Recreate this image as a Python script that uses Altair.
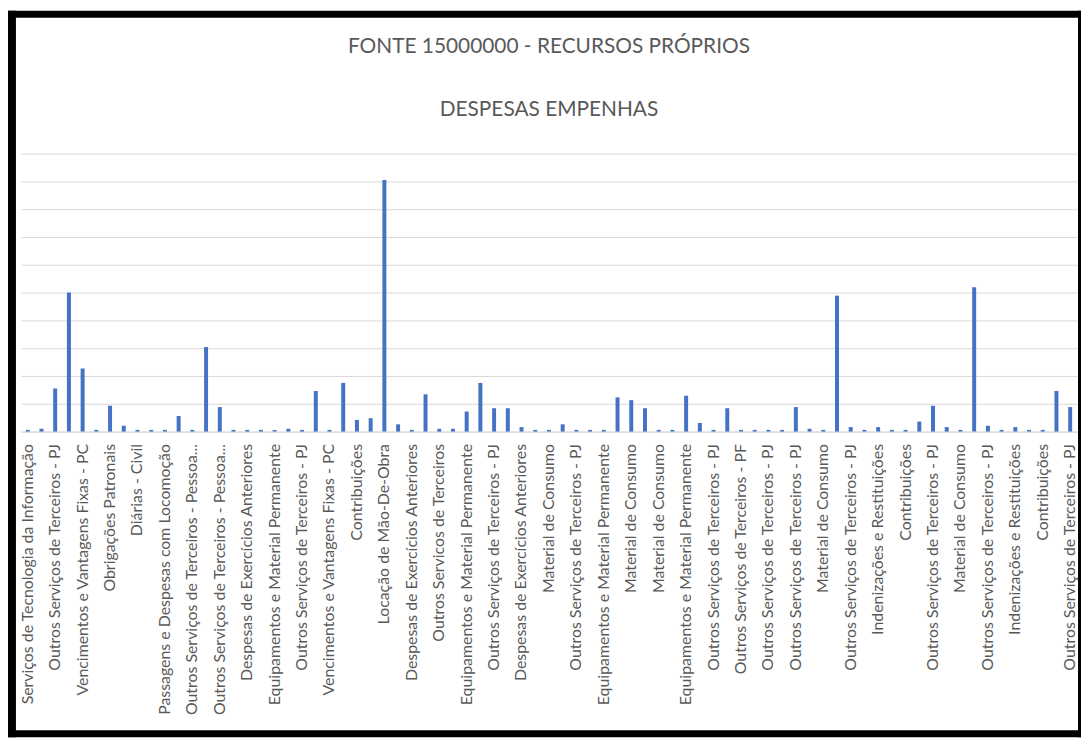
import json
import altair as alt
import pandas as pd

# ---- data (values in gridline units) ----
categories = [
    "Serviços de Tecnologia da Informação", "",
    "Outros Serviços de Terceiros - PJ", "",
    "Vencimentos e Vantagens Fixas - PC", "",
    "Obrigações Patronais", "",
    "Diárias - Civil", "",
    "Passagens e Despesas com Locomoção", "",
    "Outros Serviços de Terceiros - Pessoa...", "",
    "Outros Serviços de Terceiros - Pessoa...", "",
    "Despesas de Exercícios Anteriores", "",
    "Equipamentos e Material Permanente", "",
    "Outros Serviços de Terceiros - PJ", "",
    "Vencimentos e Vantagens Fixas - PC", "",
    "Contribuições", "",
    "Locação de Mão-De-Obra", "",
    "Despesas de Exercícios Anteriores", "",
    "Outros Servicos de Terceiros", "",
    "Equipamentos e Material Permanente", "",
    "Outros Serviços de Terceiros - PJ", "",
    "Despesas de Exercícios Anteriores", "",
    "Material de Consumo", "",
    "Outros Serviços de Terceiros - PJ", "",
    "Equipamentos e Material Permanente", "",
    "Material de Consumo", "",
    "Material de Consumo", "",
    "Equipamentos e Material Permanente", "",
    "Outros Serviços de Terceiros - PJ", "",
    "Outros Serviços de Terceiros - PF", "",
    "Outros Serviços de Terceiros - PJ", "",
    "Outros Serviços de Terceiros - PJ", "",
    "Material de Consumo", "",
    "Outros Serviços de Terceiros - PJ", "",
    "Indenizações e Restituições", "",
    "Contribuições", "",
    "Outros Serviços de Terceiros - PJ", "",
    "Material de Consumo", "",
    "Outros Serviços de Terceiros - PJ", "",
    "Indenizações e Restituições", "",
    "Contribuições", "",
    "Outros Serviços de Terceiros - PJ",
]

values = [
    0.06, 0.10, 1.55, 5.00, 2.27, 0.06, 0.93, 0.21, 0.06, 0.06,
    0.06, 0.56, 0.06, 3.04, 0.88, 0.06, 0.06, 0.06, 0.06, 0.10,
    0.06, 1.46, 0.06, 1.75, 0.42, 0.48, 9.05, 0.26, 0.06, 1.34,
    0.10, 0.10, 0.72, 1.75, 0.84, 0.84, 0.16, 0.06, 0.06, 0.26,
    0.06, 0.06, 0.06, 1.23, 1.13, 0.84, 0.06, 0.06, 1.29, 0.31,
    0.06, 0.84, 0.06, 0.06, 0.06, 0.06, 0.88, 0.10, 0.06, 4.89,
    0.16, 0.06, 0.16, 0.06, 0.06, 0.36, 0.93, 0.16, 0.06, 5.19,
    0.21, 0.06, 0.16, 0.06, 0.06, 1.46, 0.88,
]

grid_values = [0, 1, 2, 3, 4, 5, 6, 7, 8, 9, 10]

title_text = "FONTE 15000000 - RECURSOS PRÓPRIOS"
subtitle_text = "DESPESAS EMPENHAS"

df = pd.DataFrame({"idx": list(range(len(values))), "valor": values})

W, H = 1064, 280
PAD_L, PAD_T, PAD_R, PAD_B = 13, 144, 4, 308
FONT = "Lato"
GREY_TXT = "#595959"
GRID = "#d9d9d9"
BLUE = "#4472C4"

label_expr = json.dumps(categories, ensure_ascii=False) + "[datum.value]"

bars = alt.Chart(df).mark_bar(size=4, color=BLUE).encode(
    x=alt.X(
        "idx:O",
        title=None,
        scale=alt.Scale(paddingInner=0, paddingOuter=0),
        axis=alt.Axis(
            labelExpr=label_expr,
            labelAngle=270,
            labelOverlap=False,
            labelFont=FONT,
            labelFontSize=16,
            labelColor=GREY_TXT,
            labelPadding=12,
            labelLimit=400,
            ticks=False,
            domainColor=GRID,
            grid=False,
        ),
    ),
    y=alt.Y(
        "valor:Q",
        title=None,
        scale=alt.Scale(domain=[0, 10], nice=False),
        axis=alt.Axis(
            values=grid_values,
            labels=False,
            ticks=False,
            domain=False,
            grid=True,
            gridColor=GRID,
            gridWidth=1,
        ),
    ),
)

one = pd.DataFrame({"k": [0]})


def frame_side(x, x2, y, y2):
    return alt.Chart(one).mark_rect(color="black", clip=False).encode(
        x=alt.value(x), x2=alt.value(x2), y=alt.value(y), y2=alt.value(y2)
    )


frame = [
    frame_side(-13, -5, -144, 588),     # left
    frame_side(-13, 1068, -144, -137),  # top
    frame_side(1065, 1068, -144, 588),  # right
    frame_side(-13, 1068, 581, 588),    # bottom
]


def title_mark(text, y):
    return alt.Chart(one).mark_text(
        text=text, font=FONT, fontSize=21, color=GREY_TXT,
        align="center", baseline="middle", clip=False,
    ).encode(x=alt.value(W / 2), y=alt.value(y))


titles = [title_mark(title_text, -107), title_mark(subtitle_text, -44)]

chart = alt.layer(bars, *frame, *titles).properties(
    width=W,
    height=H,
    background="white",
    autosize=alt.AutoSizeParams(type="none"),
    padding={"left": PAD_L, "top": PAD_T, "right": PAD_R, "bottom": PAD_B},
).configure_view(stroke=None)

chart.save("out.html", embed_options={"renderer": "svg", "actions": False})
